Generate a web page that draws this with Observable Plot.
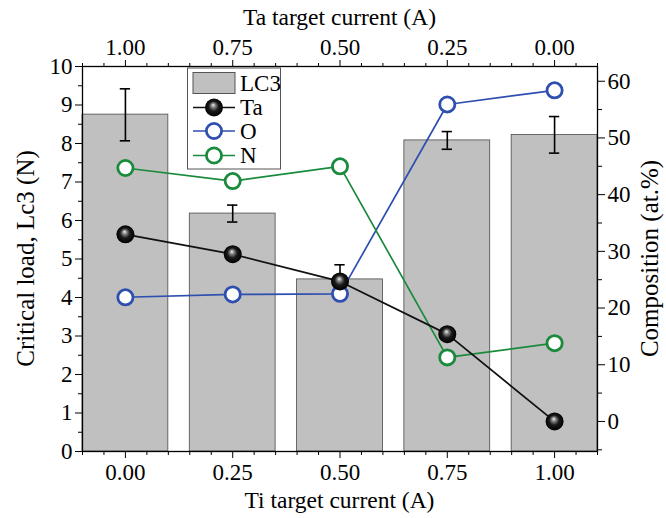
<!DOCTYPE html>
<html><head><meta charset="utf-8">
<script src="https://cdn.jsdelivr.net/npm/d3@7"></script>
<script src="https://cdn.jsdelivr.net/npm/@observablehq/plot@0.6"></script>
<style>
body{margin:0;background:#fff;}
#chart{position:relative;width:666px;height:518px;}
#chart svg, #chart svg text{font-family:"Liberation Serif","Times New Roman",Times,"DejaVu Serif",serif !important;}
</style></head><body><div id="chart"></div>
<script>
// ---- data ----
const tiCurrent = [0, 0.25, 0.5, 0.75, 1.0];
const lc3 = [8.75, 6.18, 4.47, 8.08, 8.22];
const lc3ErrLow = [0.68, 0.22, 0.37, 0.23, 0.47];
const lc3ErrHigh = [0.67, 0.22, 0.38, 0.23, 0.48];
const taComp = [33.0, 29.5, 24.7, 15.4, 0.0];
const oComp = [21.9, 22.4, 22.5, 55.9, 58.4];
const nComp = [44.7, 42.4, 45.0, 11.3, 13.8];
const majorTi = [0, 0.25, 0.5, 0.75, 1.0];
const minorTi = [-0.1, -0.05, 0.05, 0.1, 0.15, 0.2, 0.3, 0.35, 0.4, 0.45, 0.55, 0.6, 0.65, 0.7, 0.8, 0.85, 0.9, 0.95, 1.05, 1.1];
const leftMajor = [0,1,2,3,4,5,6,7,8,9,10];
const leftMinor = [0.5,1.5,2.5,3.5,4.5,5.5,6.5,7.5,8.5,9.5];
const rightMajor = [0,10,20,30,40,50,60];
const rightMinor = [-5,5,15,25,35,45,55];
const compDomain = [-5.3, 62.6];
const legendItems = ["LC3","Ta","O","N"];

// ---- layout ----
const W=666, H=518, mL=82, mR=69, mT=66, mB=67;
const FONT = "Liberation Serif, Times New Roman, Times, DejaVu Serif, serif";
const FS = 23;
const BLUE = "#2f4fb0", GREEN = "#1a8a3c";

const toL = c => (c - compDomain[0]) / (compDomain[1] - compDomain[0]) * 10;
const fromL = l => compDomain[0] + l / 10 * (compDomain[1] - compDomain[0]);

const rows = tiCurrent.map((x,i)=>({
  x, lc3: lc3[i], lo: lc3[i]-lc3ErrLow[i], hi: lc3[i]+lc3ErrHigh[i],
  ta: toL(taComp[i]), o: toL(oComp[i]), n: toL(nComp[i])
}));

const plot = Plot.plot({
  width: W, height: H,
  marginLeft: mL, marginRight: mR, marginTop: mT, marginBottom: mB,
  style: {fontFamily: FONT, fontSize: FS+"px", background: "white", color: "black", overflow: "visible"},
  x: {domain: [-0.1, 1.1]},
  y: {domain: [0, 10]},
  marks: [
    Plot.rect(rows, {x1: d=>d.x-0.1, x2: d=>d.x+0.1, y1: 0, y2: "lc3", fill: "#c0c0c0", stroke: "#4a4a4a", strokeWidth: 0.8}),
    Plot.ruleX(rows, {x: "x", y1: "lo", y2: "hi", stroke: "black", strokeWidth: 1.6}),
    Plot.ruleY(rows, {y: "hi", x1: d=>d.x-0.012, x2: d=>d.x+0.012, stroke: "black", strokeWidth: 1.6}),
    Plot.ruleY(rows, {y: "lo", x1: d=>d.x-0.012, x2: d=>d.x+0.012, stroke: "black", strokeWidth: 1.6}),
    Plot.line(rows, {x: "x", y: "o", stroke: BLUE, strokeWidth: 1.7}),
    Plot.line(rows, {x: "x", y: "n", stroke: GREEN, strokeWidth: 1.7}),
    Plot.line(rows, {x: "x", y: "ta", stroke: "#111", strokeWidth: 1.7}),
    Plot.dot(rows, {x: "x", y: "o", r: 7.6, fill: "white", stroke: BLUE, strokeWidth: 2.8}),
    Plot.dot(rows, {x: "x", y: "n", r: 7.6, fill: "white", stroke: GREEN, strokeWidth: 2.8}),
    Plot.dot(rows, {x: "x", y: "ta", r: 9, fill: "url(#sphere)", stroke: "none"}),
    Plot.frame({stroke: "black", strokeWidth: 1.3}),
    Plot.axisX(majorTi, {anchor: "bottom", tickSize: 7, tickPadding: 5, tickFormat: d=>d.toFixed(2), label: null, fontSize: FS}),
    Plot.axisX(minorTi, {anchor: "bottom", tickSize: 4, text: null, label: null}),
    Plot.axisX(majorTi, {anchor: "top", tickSize: 7, tickPadding: 5, tickFormat: d=>(1-d).toFixed(2), label: null, fontSize: FS}),
    Plot.axisX(minorTi, {anchor: "top", tickSize: 4, text: null, label: null}),
    Plot.axisY(leftMajor, {anchor: "left", tickSize: 7, tickPadding: 3, label: null, fontSize: FS}),
    Plot.axisY(leftMinor, {anchor: "left", tickSize: 4, text: null, label: null}),
    Plot.axisY(rightMajor.map(toL), {anchor: "right", tickSize: 7, tickPadding: 3, tickFormat: d=>String(Math.round(fromL(d))), label: null, fontSize: FS}),
    Plot.axisY(rightMinor.map(toL), {anchor: "right", tickSize: 4, text: null, label: null})
  ]
});

const svg = d3.select(plot);
const defs = svg.insert("defs", ":first-child");
const g = defs.append("radialGradient").attr("id","sphere").attr("cx","50%").attr("cy","50%").attr("r","50%").attr("fx","45%").attr("fy","35%");
g.append("stop").attr("offset","0%").attr("stop-color","#f4f4f4");
g.append("stop").attr("offset","22%").attr("stop-color","#8a8a8a");
g.append("stop").attr("offset","55%").attr("stop-color","#1a1a1a");
g.append("stop").attr("offset","100%").attr("stop-color","#000");

const xs = plot.scale("x"), ys = plot.scale("y");
const midY = (ys.apply(0)+ys.apply(10))/2;
const labels = svg.append("g").attr("font-family", FONT).attr("fill","black").attr("text-anchor","middle");
labels.append("text").attr("font-size", 23.5).attr("x", xs.apply(0.5)).attr("y", 508).text("Ti target current (A)");
labels.append("text").attr("font-size", 23.5).attr("x", xs.apply(0.5)).attr("y", 25).text("Ta target current (A)");
labels.append("text").attr("font-size", 25).attr("transform", `translate(34,${midY}) rotate(-90)`).text("Critical load, Lc3 (N)");
labels.append("text").attr("font-size", 25).attr("transform", `translate(658,${midY}) rotate(-90)`).text("Composition (at.%)");

// legend
const lg = svg.append("g").attr("font-family", FONT).attr("font-size", FS).attr("text-anchor","start");
lg.append("rect").attr("x",187.5).attr("y",68).attr("width",93).attr("height",101).attr("fill","white").attr("stroke","#555").attr("stroke-width",1);
const ly = [83, 107.5, 131, 155.5];
lg.append("rect").attr("x",193).attr("y",72.5).attr("width",42).attr("height",21).attr("fill","#c0c0c0").attr("stroke","#555");
const symStroke = [null, "#111", BLUE, GREEN];
for (let i=1;i<4;i++){
  lg.append("line").attr("x1",193).attr("x2",235).attr("y1",ly[i]).attr("y2",ly[i]).attr("stroke",symStroke[i]).attr("stroke-width",1.7);
  if (i===1) lg.append("circle").attr("cx",214).attr("cy",ly[i]).attr("r",9).attr("fill","url(#sphere)");
  else lg.append("circle").attr("cx",214).attr("cy",ly[i]).attr("r",7.6).attr("fill","white").attr("stroke",symStroke[i]).attr("stroke-width",2.8);
}
legendItems.forEach((t,i)=>{
  lg.append("text").attr("x",240).attr("y",ly[i]+7.5).text(t);
});

document.getElementById("chart").appendChild(plot);
</script>
</body></html>
